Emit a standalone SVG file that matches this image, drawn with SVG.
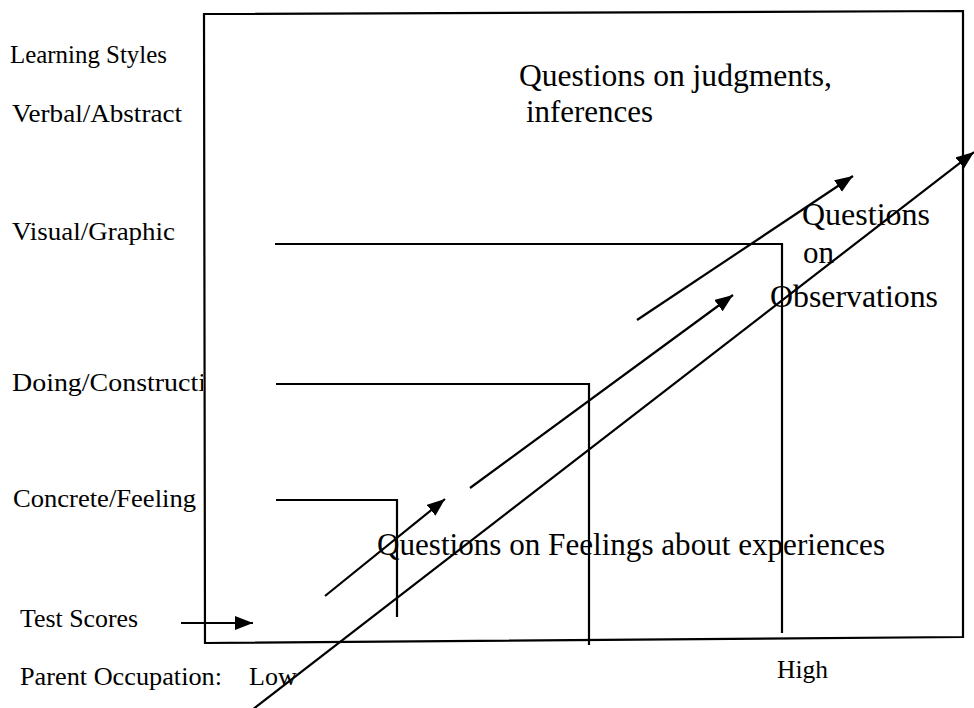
<svg xmlns="http://www.w3.org/2000/svg" width="974" height="708" viewBox="0 0 974 708">
<defs>
<marker id="ah" markerUnits="userSpaceOnUse" markerWidth="20" markerHeight="16" refX="18" refY="7" orient="auto">
<path d="M0,0 L18,7 L0,14 z" fill="#000"/>
</marker>
<clipPath id="lc"><rect x="0" y="0" width="203" height="708"/></clipPath>
</defs>
<style>
.ln{fill:none;stroke:#000;stroke-width:2.2}
.ar{fill:none;stroke:#000;stroke-width:2.2;marker-end:url(#ah)}
.lb{font-family:"Liberation Serif","Times New Roman",serif;font-size:26px;fill:#000}
.bg{font-family:"Liberation Serif","Times New Roman",serif;font-size:31px;fill:#000}
</style>
<rect width="974" height="708" fill="#fff"/>
<g id="frame">
<path class="ln" d="M204,14 L963,11 L963,637 L205,643 Z"/>
</g>
<g id="levels">
<path id="level-visual" class="ln" d="M275,244 L782,244 L782,633"/>
<path id="level-doing" class="ln" d="M276,384 L589,384 L589,645"/>
<path id="level-concrete" class="ln" d="M276,500 L397,500 L397,617"/>
</g>
<g id="connectors">
<line id="arrow-test" class="ar" x1="181" y1="623" x2="253" y2="623"/>
<line id="arrow-long" class="ar" x1="252" y1="710" x2="974" y2="152"/>
<line id="arrow-concrete" class="ar" x1="325" y1="596" x2="445" y2="499"/>
<line id="arrow-doing" class="ar" x1="470" y1="488" x2="733" y2="295"/>
<line id="arrow-visual" class="ar" x1="637" y1="320" x2="853" y2="176"/>
</g>
<g id="axis-labels">
<text class="lb" x="10" y="63" textLength="157" lengthAdjust="spacingAndGlyphs">Learning Styles</text>
<text class="lb" x="12" y="122" textLength="170" lengthAdjust="spacingAndGlyphs">Verbal/Abstract</text>
<text class="lb" x="12" y="240" textLength="163" lengthAdjust="spacingAndGlyphs">Visual/Graphic</text>
<text class="lb" x="12" y="391" clip-path="url(#lc)" textLength="194" lengthAdjust="spacingAndGlyphs">Doing/Constructi</text>
<text class="lb" x="13" y="507" textLength="183" lengthAdjust="spacingAndGlyphs">Concrete/Feeling</text>
<text class="lb" x="20" y="627" textLength="118" lengthAdjust="spacingAndGlyphs">Test Scores</text>
<text class="lb" x="20" y="685" textLength="202" lengthAdjust="spacingAndGlyphs">Parent Occupation:</text>
<text class="lb" x="249" y="685">Low</text>
<text class="lb" x="777" y="678" textLength="51" lengthAdjust="spacingAndGlyphs">High</text>
</g>
<g id="region-judgments">
<text class="bg" x="519" y="86" textLength="313" lengthAdjust="spacingAndGlyphs">Questions on judgments,</text>
<text class="bg" x="526" y="122" textLength="127" lengthAdjust="spacingAndGlyphs">inferences</text>
</g>
<g id="region-observations">
<text class="bg" x="802" y="225" textLength="128" lengthAdjust="spacingAndGlyphs">Questions</text>
<text class="bg" x="803" y="263">on</text>
<text class="bg" x="770" y="307" textLength="168" lengthAdjust="spacingAndGlyphs">Observations</text>
</g>
<g id="region-feelings">
<text class="bg" x="377" y="555" textLength="508" lengthAdjust="spacingAndGlyphs">Questions on Feelings about experiences</text>
</g>
</svg>
